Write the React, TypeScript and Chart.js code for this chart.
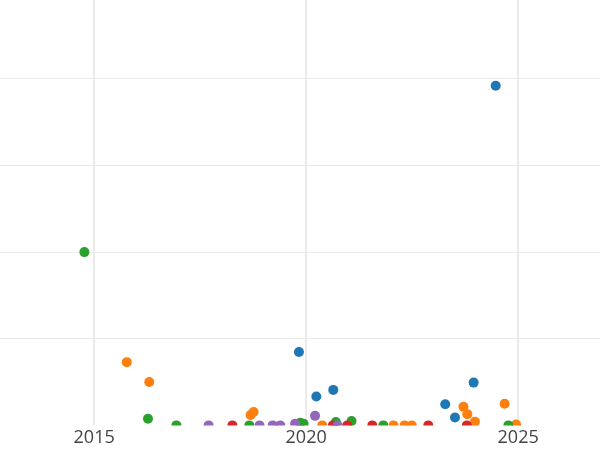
import React, { useEffect, useRef } from "react";
import { Chart, registerables } from "chart.js";

Chart.register(...registerables);

// Data: x = decimal year, y = value (gridline step of 10)
const blueX = [2019.83, 2020.24, 2020.64, 2023.28, 2023.51, 2023.95, 2024.47];
const blueY = [8.47, 3.33, 4.1, 2.45, 0.92, 4.94, 39.2];

const orangeX = [2015.77, 2016.3, 2018.69, 2018.76, 2020.38, 2022.06, 2022.32, 2022.49, 2023.71, 2023.8, 2023.98, 2024.68, 2024.95];
const orangeY = [7.3, 5.0, 1.2, 1.55, 0, 0, 0, 0, 2.15, 1.3, 0.42, 2.5, 0.1];

const greenX = [2014.77, 2016.27, 2016.94, 2018.66, 2019.86, 2019.94, 2020.7, 2021.07, 2021.82, 2024.77];
const greenY = [20.0, 0.77, 0, 0, 0.3, 0.2, 0.4, 0.5, 0, 0];

const redX = [2018.26, 2020.63, 2020.97, 2021.56, 2022.88, 2023.79];
const redY = [0, 0, 0, 0, 0, 0];

const purpleX = [2017.7, 2018.9, 2019.21, 2019.39, 2019.74, 2020.21, 2020.74];
const purpleY = [0, 0, 0, 0, 0.2, 1.1, 0];

const xTicks = [2015, 2020, 2025];
const yTicks = [10, 20, 30, 40];

const X_MIN = 2012.78;
const X_MAX = 2026.93;
const Y_MIN = 0;
const Y_MAX = 49.1;

const series = [
  { name: "blue", xs: blueX, ys: blueY, color: "#1f77b4" },
  { name: "orange", xs: orangeX, ys: orangeY, color: "#ff7f0e" },
  { name: "green", xs: greenX, ys: greenY, color: "#2ca02c" },
  { name: "red", xs: redX, ys: redY, color: "#d62728" },
  { name: "purple", xs: purpleX, ys: purpleY, color: "#9467bd" },
];

export default function App() {
  const ref = useRef<HTMLCanvasElement | null>(null);

  useEffect(() => {
    if (!ref.current) return;
    const chart = new Chart(ref.current, {
      type: "scatter",
      data: {
        datasets: series.map((s, i) => ({
          label: s.name,
          data: s.xs.map((x, j) => ({ x, y: s.ys[j] })),
          backgroundColor: s.color,
          borderWidth: 0,
          pointRadius: 5,
          pointHoverRadius: 5,
          order: series.length - i,
          clip: 0,
        })),
      },
      options: {
        animation: false,
        responsive: false,
        maintainAspectRatio: false,
        layout: { padding: 0, autoPadding: false },
        plugins: {
          legend: { display: false },
          tooltip: { enabled: false },
        },
        scales: {
          x: {
            type: "linear",
            min: X_MIN,
            max: X_MAX,
            afterBuildTicks: (scale: any) => {
              scale.ticks = xTicks.map((v) => ({ value: v }));
            },
            grid: { color: "#ebebeb", lineWidth: 2, drawTicks: false },
            border: { display: false },
            ticks: {
              padding: 1.5,
              color: "#444",
              font: { family: "'Open Sans'", size: 18 },
              callback: (v: any) => String(v),
            },
          },
          y: {
            type: "linear",
            min: Y_MIN,
            max: Y_MAX,
            display: true,
            afterBuildTicks: (scale: any) => {
              scale.ticks = yTicks.map((v) => ({ value: v }));
            },
            grid: { color: "#ebebeb", lineWidth: 1, drawTicks: false },
            border: { display: false },
            ticks: { display: false },
          },
        },
      },
    });
    return () => chart.destroy();
  }, []);

  return (
    <div style={{ position: "absolute", left: 0, top: 0, width: 600, height: 450, overflow: "hidden", background: "#fff" }}>
      <canvas ref={ref} width={600} height={450} style={{ width: 600, height: 450, display: "block" }} />
    </div>
  );
}
